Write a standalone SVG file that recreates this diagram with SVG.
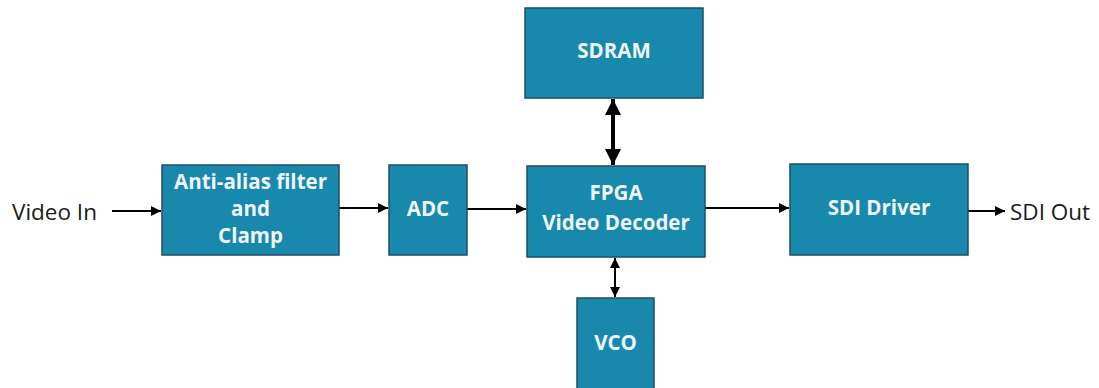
<svg xmlns="http://www.w3.org/2000/svg" width="1099" height="388" viewBox="0 0 1099 388">
<defs>
<style>
.box{fill:#1888AD;stroke:#1E4F60;stroke-width:1.5}
.lbl{font-family:"Open Sans","Liberation Sans",sans-serif;font-weight:bold;font-size:20.5px;fill:#EEF6F9;text-anchor:middle}
.ext{font-family:"Open Sans","Liberation Sans",sans-serif;font-size:22.5px;fill:#1a1a1a}
.ln{stroke:#000;stroke-width:2;fill:none}
</style>
<marker id="ah" viewBox="0 0 10 10" refX="10" refY="5" markerWidth="5" markerHeight="5" orient="auto-start-reverse" markerUnits="strokeWidth">
<path d="M0,0 L10,5 L0,10 z" fill="#000"/>
</marker>
<marker id="ahb" viewBox="0 0 10 10" refX="10" refY="5" markerWidth="4" markerHeight="4" orient="auto-start-reverse" markerUnits="strokeWidth">
<path d="M0,0 L10,5 L0,10 z" fill="#000"/>
</marker>
</defs>
<rect width="1099" height="388" fill="#fff"/>
<g id="connectors">
<line class="ln" x1="112" y1="211" x2="161" y2="211" marker-end="url(#ah)"/>
<line class="ln" x1="339" y1="208" x2="388" y2="208" marker-end="url(#ah)"/>
<line class="ln" x1="467" y1="209" x2="526" y2="209" marker-end="url(#ah)"/>
<line class="ln" x1="705" y1="208" x2="789" y2="208" marker-end="url(#ah)"/>
<line class="ln" x1="968" y1="211" x2="1005" y2="211" marker-end="url(#ah)"/>
<line x1="613" y1="99" x2="613" y2="165" stroke="#000" stroke-width="4" marker-start="url(#ahb)" marker-end="url(#ahb)"/>
<line class="ln" x1="615" y1="258" x2="615" y2="297" marker-start="url(#ah)" marker-end="url(#ah)"/>
</g>
<g id="video-in"><text class="ext" x="12" y="220">Video In</text></g>
<g id="anti-alias">
<rect class="box" x="162" y="165" width="177" height="90"/>
<text class="lbl" x="250.5" y="189">Anti-alias filter</text>
<text class="lbl" x="250.5" y="216">and</text>
<text class="lbl" x="250.5" y="243">Clamp</text>
</g>
<g id="adc">
<rect class="box" x="389" y="165" width="78" height="90"/>
<text class="lbl" x="428" y="216">ADC</text>
</g>
<g id="fpga">
<rect class="box" x="527" y="166" width="178" height="91"/>
<text class="lbl" x="616" y="200">FPGA</text>
<text class="lbl" x="616" y="230">Video Decoder</text>
</g>
<g id="sdram">
<rect class="box" x="525" y="8" width="178" height="90"/>
<text class="lbl" x="614" y="58">SDRAM</text>
</g>
<g id="vco">
<rect class="box" x="577" y="298" width="77" height="92"/>
<text class="lbl" x="615.5" y="350">VCO</text>
</g>
<g id="sdi-driver">
<rect class="box" x="790" y="164" width="178" height="91"/>
<text class="lbl" x="879" y="215">SDI Driver</text>
</g>
<g id="sdi-out"><text class="ext" x="1010" y="220">SDI Out</text></g>
</svg>
